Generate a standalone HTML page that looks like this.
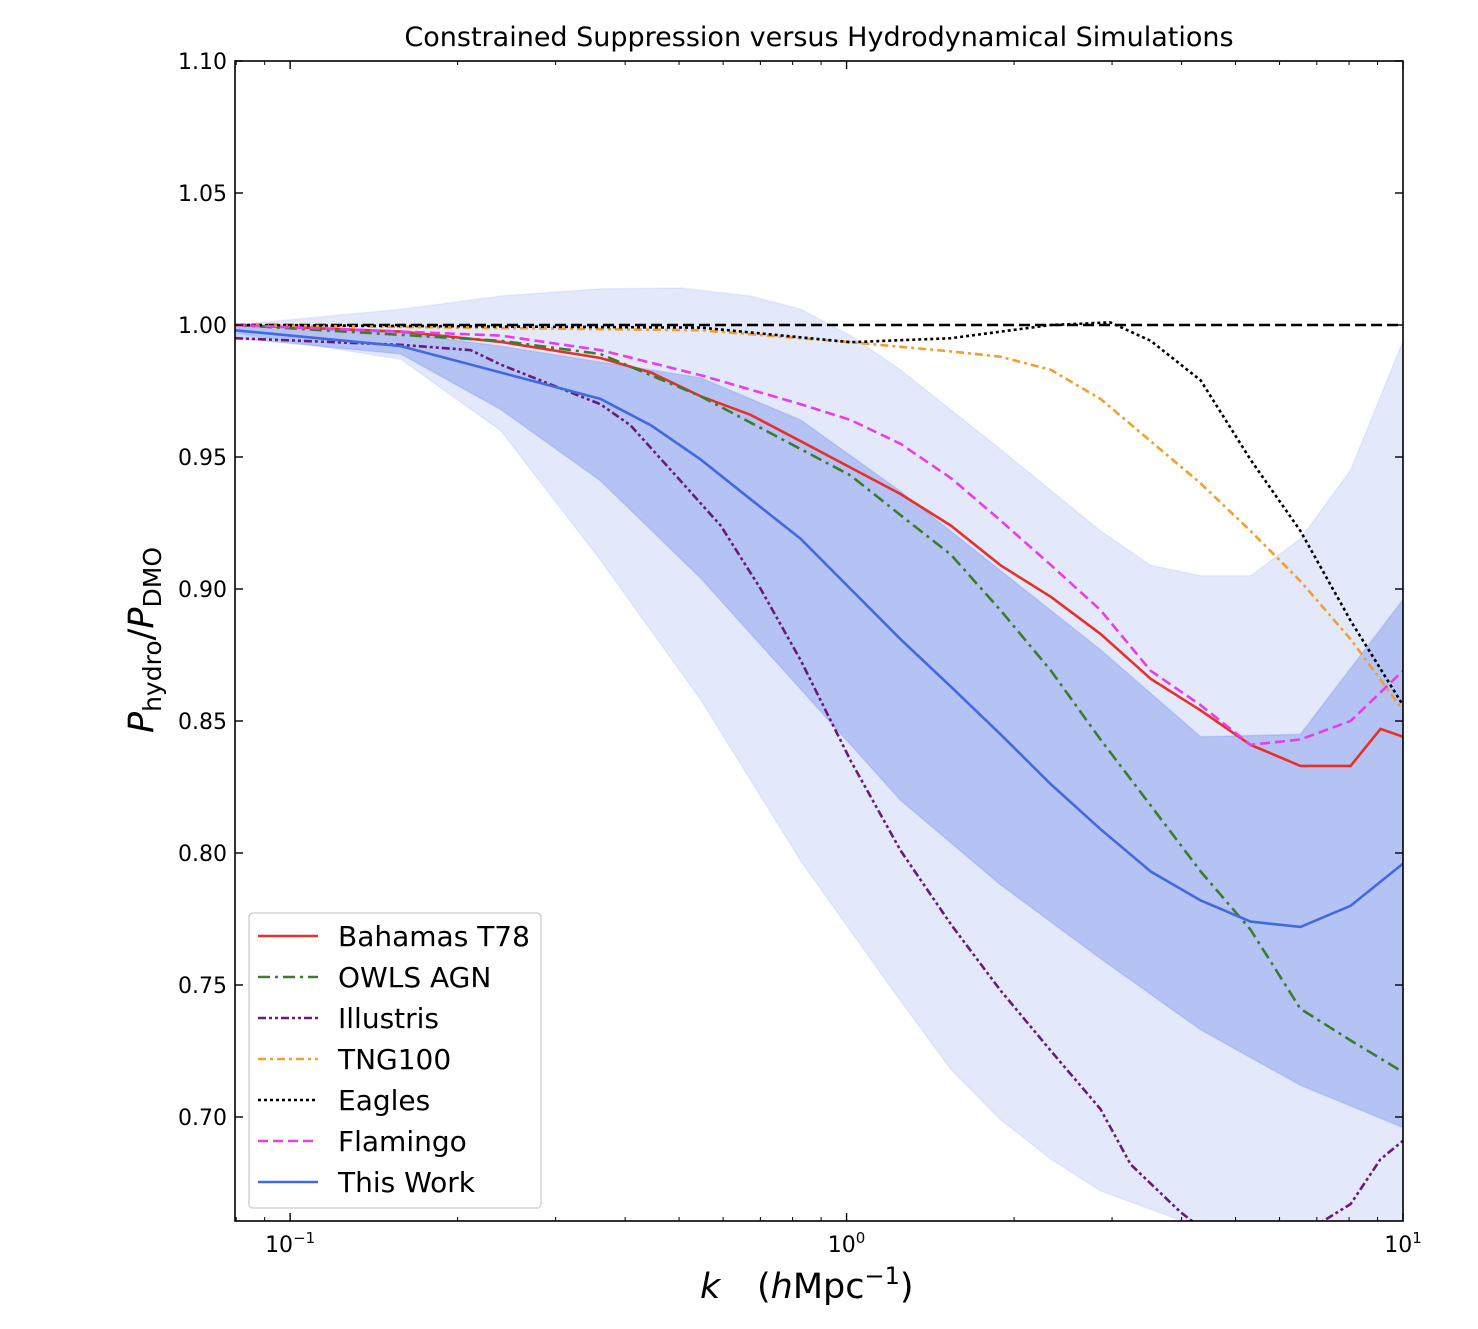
<!DOCTYPE html>
<html><head><meta charset="utf-8"><style>
body{margin:0;background:#fff;}
svg{font-family:"DejaVu Sans","Liberation Sans",sans-serif;}
</style></head><body>
<svg id="chart" width="1478" height="1324" viewBox="0 0 1478 1324" xmlns="http://www.w3.org/2000/svg">
<defs><clipPath id="clip"><rect x="235" y="61" width="1168" height="1160"/></clipPath></defs>
<rect width="1478" height="1324" fill="#fff"/>
<text x="819" y="46" font-size="27" text-anchor="middle">Constrained Suppression versus Hydrodynamical Simulations</text>
<g id="bands" clip-path="url(#clip)"></g>
<g id="lines" clip-path="url(#clip)"></g>
<g id="axes"></g>
<text transform="translate(153,640) rotate(-90)" font-size="35" text-anchor="middle"><tspan font-style="italic">P</tspan><tspan font-size="25" dy="8">hydro</tspan><tspan dy="-8">/</tspan><tspan font-style="italic">P</tspan><tspan font-size="25" dy="8">DMO</tspan></text>
<text x="700" y="1298" font-size="35"><tspan font-style="italic">k</tspan><tspan x="757">(</tspan><tspan font-style="italic">h</tspan><tspan>Mpc</tspan><tspan font-size="24" dy="-14">−1</tspan><tspan dy="14">)</tspan></text>
<g id="legend"></g>
</svg>
<script>
const kGrid = [0.0796,0.158,0.239,0.361,0.445,0.547,0.672,0.827,1.017,1.25,1.54,1.89,2.33,2.86,3.52,4.33,5.32,6.54,8.05,10];
const thisWork = [0.998,0.992,0.982,0.972,0.962,0.949,0.934,0.919,0.900,0.881,0.863,0.845,0.826,0.809,0.793,0.782,0.774,0.772,0.780,0.796];
const kBand = [0.0796,0.158,0.239,0.361,0.547,0.827,1.25,1.89,2.86,4.33,6.54,10];
const innerUp = [1.0,0.997,0.992,0.986,0.980,0.964,0.937,0.907,0.877,0.844,0.845,0.896];
const innerLo = [0.995,0.989,0.968,0.941,0.904,0.862,0.820,0.788,0.760,0.733,0.712,0.696];
const kOuter = [0.0796,0.158,0.239,0.361,0.503,0.672,0.827,1.017,1.25,1.89,2.86,3.52,4.33,5.32,6.54,8.05,10];
const outerUp = [1.0,1.006,1.011,1.0137,1.014,1.011,1.006,0.996,0.983,0.953,0.922,0.909,0.905,0.905,0.919,0.945,0.994];
const kOuterLo = [0.0796,0.158,0.239,0.361,0.547,0.827,1.25,1.54,1.89,2.33,2.86,3.52,4.33,6.54,10];
const outerLo = [0.997,0.987,0.960,0.911,0.858,0.797,0.744,0.718,0.699,0.684,0.672,0.665,0.658,0.655,0.655];
const kBah = [0.0796,0.158,0.239,0.361,0.445,0.547,0.672,0.827,1.017,1.25,1.54,1.89,2.33,2.86,3.52,4.33,5.32,6.54,8.05,9.11,10];
const bahamas = [1.0,0.9975,0.9936,0.9875,0.982,0.973,0.966,0.956,0.946,0.936,0.924,0.909,0.897,0.883,0.866,0.854,0.841,0.833,0.833,0.847,0.844];
const kOwls = [0.0796,0.239,0.361,0.547,0.827,1.017,1.25,1.54,1.89,2.33,2.86,3.52,4.33,5.32,6.54,8.05,10];
const owls = [1.0,0.994,0.989,0.973,0.953,0.943,0.928,0.913,0.892,0.869,0.843,0.818,0.793,0.771,0.741,0.729,0.717];
const kIll = [0.0796,0.158,0.211,0.239,0.361,0.409,0.503,0.594,0.701,0.827,1.017,1.25,1.54,1.89,2.33,2.86,3.24,3.98,4.33,5.32,6.54,7.11,8.05,9.11,10];
const illustris = [0.995,0.9925,0.9905,0.985,0.970,0.962,0.941,0.924,0.900,0.873,0.835,0.801,0.773,0.748,0.725,0.703,0.682,0.664,0.658,0.650,0.655,0.660,0.667,0.684,0.691];
const kTng = [0.0796,0.547,1.017,1.54,1.89,2.33,2.86,3.52,4.33,5.32,6.54,8.05,10];
const tng = [1.0,0.998,0.9935,0.990,0.988,0.983,0.972,0.956,0.940,0.922,0.903,0.881,0.854];
const kEag = [0.0796,0.547,1.017,1.54,2.33,2.98,3.52,4.33,5.32,6.54,8.05,10];
const eagles = [1.0,0.999,0.9935,0.995,1.0,1.001,0.994,0.979,0.949,0.922,0.888,0.856];
const kFla = [0.0796,0.239,0.361,0.547,0.827,1.017,1.25,1.54,1.89,2.33,2.86,3.52,4.33,5.32,6.54,8.05,10];
const flamingo = [1.0,0.996,0.9905,0.981,0.970,0.964,0.955,0.942,0.926,0.909,0.892,0.869,0.856,0.841,0.843,0.850,0.869];
const yTicks = [0.70,0.75,0.80,0.85,0.90,0.95,1.00,1.05,1.10];
const xTickExp = [-1,0,1];

const NS='http://www.w3.org/2000/svg';
const X0=235,X1=1403,Y0=61,Y1=1221;
const lmin=Math.log10(0.0796),lmax=1;
const xs=k=>X0+(Math.log10(k)-lmin)/(lmax-lmin)*(X1-X0);
const ys=v=>325+(1.0-v)/0.05*132;
function mk(tag,attrs,parent){const e=document.createElementNS(NS,tag);for(const a in attrs)e.setAttribute(a,attrs[a]);parent.appendChild(e);return e;}
const bands=document.getElementById('bands'),lines=document.getElementById('lines'),axes=document.getElementById('axes'),legend=document.getElementById('legend');
function pts(k,v){return k.map((kk,i)=>xs(kk).toFixed(1)+','+ys(v[i]).toFixed(1));}
function band(kU,u,kL,l,op,name){const p=pts(kU,u).concat(pts(kL,l).reverse());const e=mk('polygon',{points:p.join(' '),fill:'#4169e1','fill-opacity':op,stroke:'#4169e1','stroke-opacity':op*0.6,'stroke-width':1.5},bands);

}
band(kOuter,outerUp,kOuterLo,outerLo,0.15,'outer-band');
band(kBand,innerUp,kBand,innerLo,0.29,'inner-band');
const ref=mk('line',{x1:X0,x2:X1,y1:ys(1),y2:ys(1),stroke:'#000','stroke-width':2.5,'stroke-dasharray':'11,5'},lines);


const series=[
 ['Bahamas T78',kBah,bahamas,'#e8302a','','bahamas-line'],
 ['OWLS AGN',kOwls,owls,'#3a7d2c','12,5,3,5','owls-line'],
 ['Illustris',kIll,illustris,'#6a1b7a','8,3,3,3,3,3','illustris-line'],
 ['TNG100',kTng,tng,'#f0a030','8,4,3,4','tng100-line'],
 ['Eagles',kEag,eagles,'#000','3,3','eagles-line'],
 ['Flamingo',kFla,flamingo,'#e83ee8','10,5','flamingo-line'],
 ['This Work',kGrid,thisWork,'#4169e1','','this-work-line']];
series.forEach((s,i)=>{
 const e=mk('polyline',{points:pts(s[1],s[2]).join(' '),fill:'none',stroke:s[3],'stroke-width':2.6,'stroke-dasharray':s[4]},lines);
 
 
});
mk('rect',{x:X0,y:Y0,width:X1-X0,height:Y1-Y0,fill:'none',stroke:'#000','stroke-width':1.6},axes);
yTicks.forEach(v=>{const y=ys(v);
 mk('line',{x1:X0,x2:X0+8,y1:y,y2:y,stroke:'#000','stroke-width':1.4},axes);
 mk('line',{x1:X1,x2:X1-8,y1:y,y2:y,stroke:'#000','stroke-width':1.4},axes);
 const t=mk('text',{x:X0-8,y:y+8,'font-size':22,'text-anchor':'end'},axes);t.textContent=v.toFixed(2);
 
 
});
xTickExp.forEach(ex=>{const x=xs(Math.pow(10,ex));
 mk('line',{x1:x,x2:x,y1:Y1,y2:Y1-8,stroke:'#000','stroke-width':1.4},axes);
 mk('line',{x1:x,x2:x,y1:Y0,y2:Y0+8,stroke:'#000','stroke-width':1.4},axes);
 const t=mk('text',{x:x,y:Y1+31,'font-size':22,'text-anchor':'middle'},axes);
 t.innerHTML='10<tspan font-size="15" dy="-9">'+(ex<0?'−1':ex)+'</tspan>';
 
 
});
for(let d=-2;d<=0;d++)for(let m=2;m<10;m++){const k=m*Math.pow(10,d);if(k<0.0796||k>10)continue;const x=xs(k);
 mk('line',{x1:x,x2:x,y1:Y1,y2:Y1-4,stroke:'#000','stroke-width':1},axes);
 mk('line',{x1:x,x2:x,y1:Y0,y2:Y0+4,stroke:'#000','stroke-width':1},axes);}
mk('rect',{x:249,y:913,width:292,height:295,rx:4,fill:'#fff','fill-opacity':0.85,stroke:'#ccc','stroke-width':1.3},legend);
series.forEach((s,i)=>{const y=936+i*41;
 mk('line',{x1:258,x2:318,y1:y,y2:y,stroke:s[3],'stroke-width':2.6,'stroke-dasharray':s[4]},legend);
 const t=mk('text',{x:338,y:y+10,'font-size':28},legend);t.textContent=s[0];
 
 
});
</script>
</body></html>
